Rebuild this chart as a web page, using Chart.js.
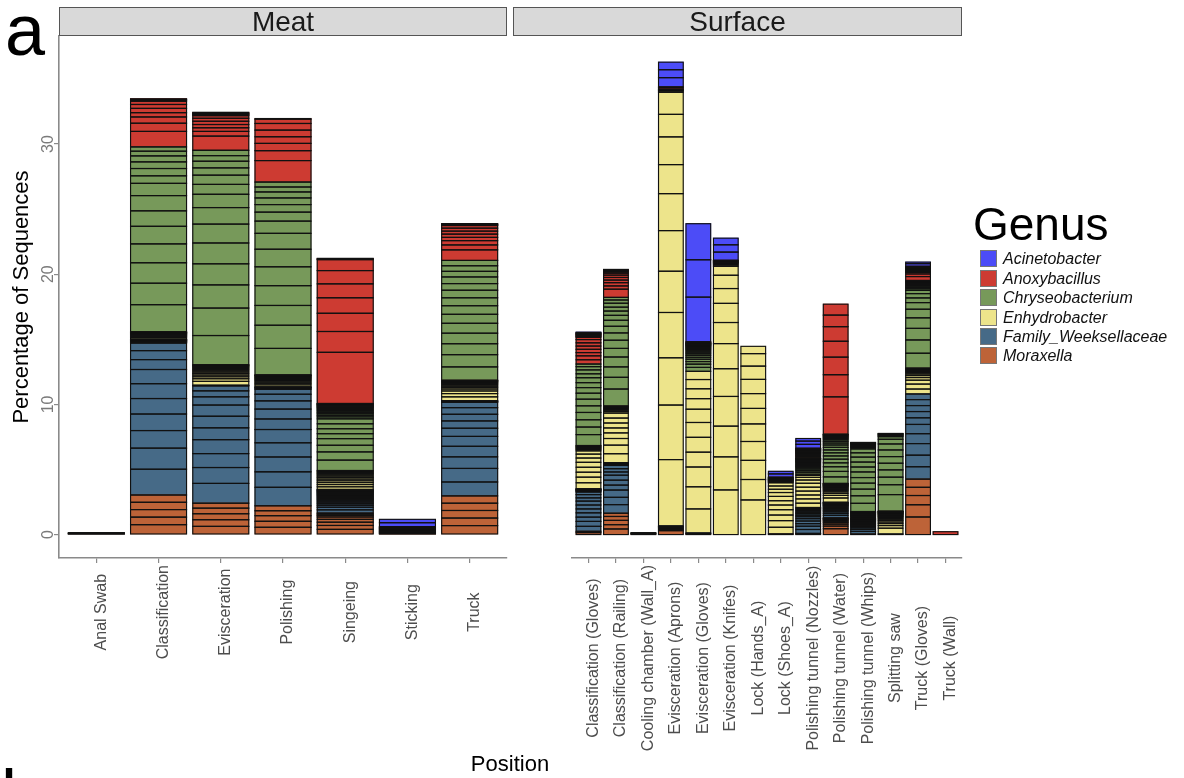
<!DOCTYPE html>
<html>
<head>
<meta charset="utf-8">
<script src="https://cdn.jsdelivr.net/npm/chart.js@4.4.1/dist/chart.umd.min.js"></script>
<style>
  html, body { margin: 0; padding: 0; background: #fff; }
  #wrap { position: relative; width: 1184px; height: 778px; overflow: hidden;
          font-family: "Liberation Sans", Arial, sans-serif; }
  #wrap canvas { position: absolute; left: 0; top: 0; }
  .strip { position: absolute; top: 7px; height: 29px; background: #d9d9d9; border: 1px solid #555;
           box-sizing: border-box; font-size: 28px; line-height: 27px; text-align: center; color: #1a1a1a; }
  .big { position: absolute; font-size: 72px; line-height: 72px; color: #000; }
  #xtitle { position: absolute; left: 0; width: 1020px; top: 753px; text-align: center; font-size: 22px; line-height: 22px; }
  #legend { position: absolute; left: 0; top: 0; }
  #legend .title { position: absolute; left: 973px; top: 201px; font-size: 46px; line-height: 46px; white-space: nowrap; }
  #legend .key { position: absolute; left: 980px; width: 17px; height: 17px; box-sizing: border-box; border: 1px solid #777; }
  #legend .lab { position: absolute; left: 1003px; font-size: 16px; line-height: 17px; font-style: italic; white-space: nowrap; color: #111; }
</style>
</head>
<body>
<div id="wrap">
  <canvas id="meat" width="1184" height="778"></canvas>
  <canvas id="surface" width="1184" height="778"></canvas>
  <div class="strip" style="left:59px;width:448px;">Meat</div>
  <div class="strip" style="left:513px;width:449px;">Surface</div>
  <div class="big" style="left:5px;top:-6px;">a</div>
  <div class="big" style="left:1px;top:759px;">b</div>
  <div id="xtitle">Position</div>
  <div id="legend"></div>
</div>
<script>
// Facet categories
const meatCategories = ['Anal Swab', 'Classification', 'Evisceration', 'Polishing', 'Singeing', 'Sticking', 'Truck'];
const surfaceCategories = ['Classification (Gloves)', 'Classification (Railing)', 'Cooling chamber (Wall_A)',
  'Evisceration (Aprons)', 'Evisceration (Gloves)', 'Evisceration (Knifes)', 'Lock (Hands_A)', 'Lock (Shoes_A)',
  'Polishing tunnel (Nozzles)', 'Polishing tunnel (Water)', 'Polishing tunnel (Whips)', 'Splitting saw',
  'Truck (Gloves)', 'Truck (Wall)'];
const yTickValues = [0, 10, 20, 30];

// Genus legend entries (top of stack first) and colours
const genusNames = ['Acinetobacter', 'Anoxybacillus', 'Chryseobacterium', 'Enhydrobacter', 'Family_Weeksellaceae', 'Moraxella'];
const genusColors = ['#4c4cf7', '#cd3b32', '#77995a', '#ede48b', '#466a87', '#bd6338'];

// Per-OTU percentages, one list per category, largest first (bottom of the genus block)
const meatMoraxella = [
  [0.05],
  [0.76, 0.58, 0.58, 0.56, 0.56],
  [0.63, 0.51, 0.46, 0.43, 0.38],
  [0.56, 0.46, 0.43, 0.38, 0.38],
  [0.4, 0.3, 0.25, 0.22, 0.18, 0.12, 0.1, 0.08],
  [0.06, 0.05, 0.04],
  [0.69, 0.58, 0.58, 0.56, 0.56]
];
const meatWeeksellaceae = [
  [0.05],
  [1.98, 1.62, 1.35, 1.27, 1.19, 1.14, 1.09, 0.76, 0.69, 0.58, 0.05, 0.04, 0.04, 0.03, 0.03, 0.03, 0.03, 0.03, 0.03],
  [1.52, 1.22, 1.07, 1.07, 0.91, 0.89, 0.86, 0.63, 0.46, 0.38, 0.05],
  [1.42, 1.19, 1.14, 1.09, 1.02, 0.81, 0.76, 0.63, 0.51, 0.38, 0.08, 0.06, 0.05],
  [0.25, 0.2, 0.15, 0.12, 0.12, 0.1, 0.1, 0.09, 0.08, 0.08, 0.07, 0.07, 0.06, 0.06, 0.05, 0.05, 0.05, 0.04, 0.04, 0.04],
  [0.05, 0.04, 0.04],
  [1.07, 1.04, 0.89, 0.81, 0.76, 0.63, 0.56, 0.51, 0.51, 0.41, 0.05, 0.04, 0.03]
];
const meatEnhydrobacter = [
  [],
  [0.12, 0.08, 0.06, 0.05, 0.05, 0.04, 0.04, 0.03, 0.03, 0.03, 0.03],
  [0.3, 0.2, 0.15, 0.13, 0.12, 0.11, 0.1, 0.1, 0.09, 0.08, 0.07, 0.06, 0.04, 0.03],
  [0.15, 0.12, 0.1, 0.1, 0.09, 0.08, 0.07, 0.06, 0.05, 0.04, 0.03, 0.03],
  [0.2, 0.17, 0.15, 0.14, 0.13, 0.12, 0.11, 0.1, 0.1, 0.09, 0.08, 0.06],
  [0.05, 0.04],
  [0.3, 0.25, 0.2, 0.15, 0.12, 0.1, 0.1, 0.08, 0.07, 0.06, 0.05, 0.04, 0.03, 0.03]
];
const meatChryseobacterium = [
  [0.05],
  [2.08, 1.65, 1.57, 1.45, 1.35, 1.19, 1.17, 0.94, 0.58, 0.56, 0.51, 0.46, 0.36, 0.33],
  [2.24, 2.11, 1.78, 1.62, 1.6, 1.45, 1.27, 1.02, 0.76, 0.71, 0.56, 0.51, 0.43, 0.41],
  [2.03, 1.78, 1.52, 1.52, 1.45, 1.35, 1.22, 0.94, 0.69, 0.58, 0.51, 0.46, 0.38, 0.38],
  [0.8, 0.63, 0.51, 0.51, 0.38, 0.38, 0.38, 0.38, 0.15, 0.12, 0.12, 0.1, 0.1, 0.08, 0.08, 0.07, 0.06, 0.06, 0.05, 0.05, 0.04, 0.04, 0.03, 0.03],
  [0.05, 0.04, 0.03],
  [1.02, 0.94, 0.84, 0.81, 0.76, 0.69, 0.66, 0.61, 0.58, 0.51, 0.51, 0.43, 0.43, 0.41]
];
const meatAnoxybacillus = [
  [],
  [1.19, 0.63, 0.48, 0.33, 0.33, 0.3, 0.25, 0.08, 0.06, 0.05],
  [1.09, 0.36, 0.28, 0.25, 0.25, 0.23, 0.2, 0.08, 0.07, 0.06, 0.05],
  [1.65, 0.76, 0.56, 0.51, 0.51, 0.51, 0.33, 0.05],
  [3.93, 1.6, 1.4, 1.19, 1.07, 1.02, 0.84, 0.06, 0.04],
  [0.05, 0.04, 0.03],
  [0.81, 0.38, 0.33, 0.25, 0.25, 0.23, 0.23, 0.2, 0.06, 0.05, 0.04]
];
const meatAcinetobacter = [[], [], [], [], [], [0.3, 0.26], []];

const surfaceMoraxella = [
  [0.15, 0.1],
  [0.43, 0.33, 0.33, 0.3, 0.25],
  [0.05],
  [0.3],
  [0.06],
  [],
  [],
  [0.05],
  [0.05, 0.04],
  [0.45, 0.2, 0.15, 0.12, 0.1, 0.08, 0.06, 0.05, 0.04, 0.03],
  [0.04],
  [],
  [1.35, 0.94, 0.71, 0.63, 0.63],
  []
];
const surfaceWeeksellaceae = [
  [0.38, 0.38, 0.33, 0.33, 0.3, 0.3, 0.3, 0.25, 0.25, 0.2, 0.06, 0.05, 0.04, 0.04, 0.03, 0.03],
  [0.66, 0.56, 0.56, 0.38, 0.38, 0.38, 0.25, 0.25, 0.25, 0.06, 0.05, 0.04, 0.03, 0.03],
  [0.05],
  [0.1, 0.08, 0.06, 0.05, 0.04, 0.03],
  [0.06],
  [],
  [],
  [],
  [0.3, 0.25, 0.2, 0.2, 0.18, 0.15, 0.12, 0.12, 0.1, 0.1, 0.08, 0.08, 0.06, 0.05],
  [0.2, 0.15, 0.12, 0.1, 0.1, 0.08, 0.08, 0.07, 0.06, 0.05, 0.05, 0.04, 0.04, 0.03, 0.03],
  [0.2, 0.15, 0.12, 0.1, 0.08, 0.08, 0.07, 0.06, 0.05, 0.05, 0.04, 0.04, 0.03, 0.03, 0.03, 0.02, 0.02, 0.02],
  [0.04],
  [0.95, 0.89, 0.89, 0.76, 0.71, 0.51, 0.48, 0.46, 0.46, 0.43],
  []
];
const surfaceEnhydrobacter = [
  [0.46, 0.43, 0.38, 0.38, 0.38, 0.33, 0.3, 0.25, 0.1, 0.08, 0.07, 0.06, 0.05, 0.05],
  [0.69, 0.66, 0.51, 0.43, 0.38, 0.38, 0.38, 0.38, 0.12, 0.1, 0.08, 0.07, 0.06, 0.05, 0.04, 0.03],
  [],
  [5.1, 4.19, 3.63, 3.48, 3.17, 3.12, 2.84, 2.23, 2.13, 1.73, 1.7, 0.1, 0.06],
  [1.85, 1.7, 1.52, 1.14, 1.14, 1.14, 1.02, 0.81, 0.76, 0.71, 0.63],
  [3.43, 2.54, 2.36, 2.28, 2.13, 1.93, 1.62, 1.47, 1.14, 1.02, 0.69, 0.1, 0.08, 0.06],
  [2.66, 1.57, 1.47, 1.45, 1.35, 1.19, 1.14, 1.09, 1.02, 0.96, 0.56],
  [0.51, 0.51, 0.43, 0.41, 0.36, 0.33, 0.33, 0.3, 0.25, 0.25, 0.25, 0.06, 0.05, 0.05, 0.04, 0.04, 0.03, 0.03],
  [0.33, 0.33, 0.3, 0.3, 0.3, 0.3, 0.25, 0.2, 0.15, 0.1],
  [0.33, 0.2, 0.15, 0.12, 0.1, 0.08, 0.07, 0.06, 0.05, 0.05, 0.04, 0.04, 0.03, 0.03, 0.03, 0.03, 0.02, 0.02],
  [0.06, 0.05, 0.05, 0.04, 0.04, 0.04, 0.03, 0.03, 0.03, 0.03, 0.03, 0.03, 0.02, 0.02, 0.02, 0.02],
  [0.45, 0.2, 0.15, 0.12, 0.12, 0.1, 0.08, 0.07, 0.06, 0.05, 0.05, 0.04, 0.04, 0.04, 0.03, 0.03, 0.03, 0.03, 0.03, 0.02, 0.02],
  [0.38, 0.38, 0.3, 0.2, 0.15, 0.12, 0.1, 0.08, 0.07, 0.06, 0.05, 0.04, 0.03, 0.03],
  []
];
const surfaceChryseobacterium = [
  [0.84, 0.58, 0.56, 0.56, 0.51, 0.51, 0.46, 0.43, 0.38, 0.38, 0.3, 0.3, 0.25, 0.2],
  [1.3, 0.9, 0.8, 0.76, 0.66, 0.63, 0.56, 0.51, 0.46, 0.38, 0.33, 0.3, 0.3, 0.25, 0.2],
  [0.05],
  [0.05],
  [0.3, 0.25, 0.2, 0.18, 0.15, 0.15, 0.12, 0.12, 0.1, 0.1, 0.08, 0.07, 0.06, 0.05, 0.05, 0.04, 0.04, 0.03, 0.03, 0.03, 0.03],
  [0.05, 0.04],
  [],
  [0.04],
  [0.15, 0.12, 0.12, 0.1, 0.1, 0.09, 0.08, 0.08, 0.07, 0.06, 0.05, 0.05, 0.04, 0.03, 0.03, 0.03, 0.02, 0.02],
  [0.5, 0.42, 0.36, 0.3, 0.28, 0.25, 0.24, 0.22, 0.2, 0.18, 0.15, 0.13, 0.12, 0.1, 0.08, 0.07, 0.06, 0.05, 0.04, 0.03],
  [0.63, 0.58, 0.51, 0.46, 0.43, 0.43, 0.38, 0.38, 0.38, 0.33, 0.3, 0.1, 0.08, 0.07, 0.06, 0.05, 0.05, 0.04, 0.03, 0.02],
  [1.27, 0.76, 0.58, 0.56, 0.51, 0.51, 0.51, 0.46, 0.36, 0.2, 0.08, 0.06, 0.05, 0.04, 0.02],
  [1.14, 1.02, 0.89, 0.81, 0.66, 0.51, 0.36, 0.33, 0.25, 0.12, 0.1, 0.1, 0.08, 0.08, 0.07, 0.06, 0.05, 0.04, 0.03, 0.03],
  []
];
const surfaceAnoxybacillus = [
  [0.33, 0.3, 0.25, 0.25, 0.25, 0.25, 0.25, 0.18, 0.06, 0.06, 0.05, 0.05, 0.04, 0.04],
  [0.63, 0.25, 0.25, 0.2, 0.2, 0.18, 0.15, 0.1, 0.08, 0.06, 0.05],
  [],
  [0.12, 0.08],
  [0.05, 0.04],
  [0.05, 0.04, 0.04],
  [],
  [0.05, 0.04],
  [0.1, 0.08, 0.07, 0.06, 0.05, 0.05, 0.04, 0.04, 0.04, 0.03, 0.03, 0.03, 0.03, 0.03, 0.03, 0.02, 0.02],
  [2.87, 1.7, 1.35, 1.22, 1.12, 0.89, 0.84],
  [],
  [],
  [0.3, 0.2, 0.12, 0.07, 0.06, 0.05, 0.05, 0.04, 0.04, 0.04, 0.03, 0.03, 0.03, 0.03],
  [0.22]
];
const surfaceAcinetobacter = [
  [0.05, 0.04],
  [],
  [],
  [0.71, 0.61, 0.58],
  [3.43, 2.87, 2.77],
  [0.63, 0.56, 0.51],
  [],
  [0.25, 0.2],
  [0.3, 0.25, 0.2],
  [],
  [],
  [],
  [0.2, 0.12],
  []
];

const colorOf = name => genusColors[genusNames.indexOf(name)];

// One dataset per OTU rank within a genus; stack order follows the block order (bottom to top)
function buildDatasets(blocks) {
  const sets = [];
  blocks.forEach(([name, perCategory]) => {
    const depth = Math.max(0, ...perCategory.map(s => s.length));
    for (let k = 0; k < depth; k++) {
      sets.push({
        label: name,
        data: perCategory.map(s => (k < s.length ? s[k] : null)),
        backgroundColor: colorOf(name),
        borderWidth: 0,
        inflateAmount: 0.4,
        barPercentage: 0.9,
        categoryPercentage: 1
      });
    }
  });
  return sets;
}

const AXIS_GREY = '#8a8a8a';
const FONT = '"Liberation Sans", Arial, sans-serif';

// Black outline around every segment, stroked on the element's own geometry
const segmentOutline = {
  id: 'segmentOutline',
  afterDatasetsDraw(chart) {
    const ctx = chart.ctx;
    const area = chart.chartArea;
    ctx.save();
    ctx.beginPath();
    ctx.rect(area.left, area.top, area.right - area.left, area.bottom - area.top);
    ctx.clip();
    ctx.strokeStyle = '#111';
    ctx.lineWidth = 1.15;
    chart.data.datasets.forEach((ds, di) => {
      const meta = chart.getDatasetMeta(di);
      meta.data.forEach((bar, i) => {
        if (ds.data[i] == null) return;
        const p = bar.getProps(['x', 'y', 'base', 'width'], true);
        ctx.strokeRect(p.x - p.width / 2, Math.min(p.y, p.base), p.width, Math.abs(p.base - p.y));
      });
    });
    ctx.restore();
  }
};

// Rotated tick labels (centred in the facet's label band) and the y title
const axisText = {
  id: 'axisText',
  afterDraw(chart, args, opts) {
    const ctx = chart.ctx;
    const xs = chart.scales.x, ys = chart.scales.y;
    ctx.save();
    ctx.font = '16px ' + FONT;
    ctx.fillStyle = '#4d4d4d';
    const longest = Math.max(...opts.labels.map(l => ctx.measureText(l).width));
    const bandCentre = xs.top + 7 + longest / 2;
    opts.labels.forEach((lab, i) => {
      ctx.save();
      ctx.translate(xs.getPixelForValue(i) - 3, bandCentre);
      ctx.rotate(-Math.PI / 2);
      ctx.textAlign = 'center';
      ctx.textBaseline = 'top';
      ctx.fillText(lab, 0, 0);
      ctx.restore();
    });
    if (opts.yAxis) {
      ctx.font = '16px ' + FONT;
      ctx.fillStyle = '#7a7a7a';
      yTickValues.forEach(v => {
        ctx.save();
        ctx.translate(53, ys.getPixelForValue(v));
        ctx.rotate(-Math.PI / 2);
        ctx.textAlign = 'center';
        ctx.textBaseline = 'alphabetic';
        ctx.fillText(String(v), 0, 0);
        ctx.restore();
      });
      ctx.font = '22px ' + FONT;
      ctx.fillStyle = '#000';
      ctx.save();
      ctx.translate(22, (chart.chartArea.top + chart.chartArea.bottom) / 2);
      ctx.rotate(-Math.PI / 2);
      ctx.textAlign = 'center';
      ctx.textBaseline = 'middle';
      ctx.fillText('Percentage of Sequences', 0, 0);
      ctx.restore();
    }
    ctx.restore();
  }
};

function makeFacet(id, categories, blocks, withY, padding) {
  return new Chart(document.getElementById(id), {
    type: 'bar',
    data: { labels: categories.map((_, i) => i), datasets: buildDatasets(blocks) },
    options: {
      responsive: false,
      devicePixelRatio: 1,
      animation: false,
      events: [],
      layout: { padding },
      plugins: { legend: { display: false }, tooltip: { enabled: false }, axisText: { labels: categories, yAxis: withY } },
      scales: {
        x: {
          type: 'linear', stacked: true, offset: false,
          min: -0.6, max: categories.length - 0.4,
          afterBuildTicks: s => { s.ticks = categories.map((_, i) => ({ value: i })); },
          afterFit: s => { s.height = 10; },
          ticks: { display: false },
          grid: { display: true, offset: false, drawOnChartArea: false, drawTicks: true, tickLength: 5, color: AXIS_GREY, lineWidth: 1.2 },
          border: { display: true, color: AXIS_GREY, width: 1.6 }
        },
        y: {
          type: 'linear', stacked: true, display: withY,
          min: -1.8, max: 38.3,
          afterBuildTicks: s => { s.ticks = yTickValues.map(v => ({ value: v })); },
          afterFit: s => { s.width = 59; },
          ticks: { display: false },
          grid: { display: true, offset: false, drawOnChartArea: false, drawTicks: true, tickLength: 5, color: AXIS_GREY, lineWidth: 1.2 },
          border: { display: true, color: AXIS_GREY, width: 1.6 }
        }
      }
    },
    plugins: [segmentOutline, axisText]
  });
}

makeFacet('meat', meatCategories, [
  ['Moraxella', meatMoraxella],
  ['Family_Weeksellaceae', meatWeeksellaceae],
  ['Enhydrobacter', meatEnhydrobacter],
  ['Chryseobacterium', meatChryseobacterium],
  ['Anoxybacillus', meatAnoxybacillus],
  ['Acinetobacter', meatAcinetobacter]
], true, { left: 0, top: 36, right: 1184 - 507, bottom: 778 - 558 - 10 });

makeFacet('surface', surfaceCategories, [
  ['Moraxella', surfaceMoraxella],
  ['Family_Weeksellaceae', surfaceWeeksellaceae],
  ['Enhydrobacter', surfaceEnhydrobacter],
  ['Chryseobacterium', surfaceChryseobacterium],
  ['Anoxybacillus', surfaceAnoxybacillus],
  ['Acinetobacter', surfaceAcinetobacter]
], false, { left: 513, top: 36, right: 1184 - 962, bottom: 778 - 558 - 10 });

// Genus legend
const legend = document.getElementById('legend');
const title = document.createElement('div');
title.className = 'title';
title.textContent = 'Genus';
legend.appendChild(title);
const rowCentres = [258, 278, 297, 317, 336, 355];
genusNames.forEach((name, i) => {
  const key = document.createElement('div');
  key.className = 'key';
  key.style.top = (rowCentres[i] - 8.5) + 'px';
  key.style.background = genusColors[i];
  legend.appendChild(key);
  const lab = document.createElement('div');
  lab.className = 'lab';
  lab.style.top = (rowCentres[i] - 8.5) + 'px';
  lab.textContent = name;
  legend.appendChild(lab);
});
</script>
</body>
</html>
